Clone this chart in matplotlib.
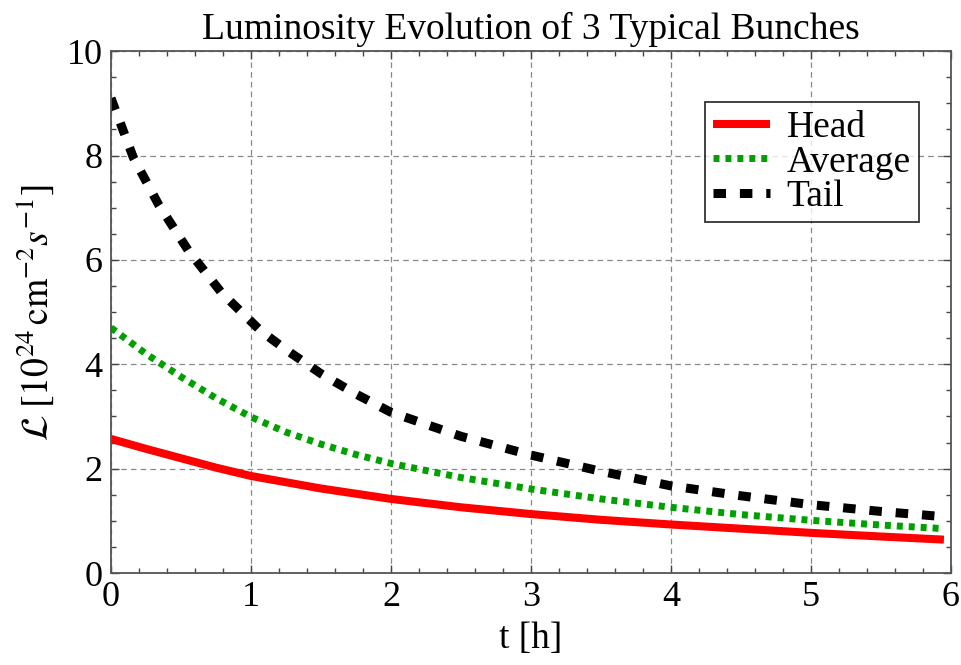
import matplotlib
matplotlib.use("Agg")
import matplotlib.pyplot as plt
from matplotlib.ticker import MultipleLocator

plt.rcParams["font.family"] = ["Liberation Serif", "DejaVu Serif"]
plt.rcParams["mathtext.fontset"] = "stix"
plt.rcParams["lines.scale_dashes"] = False

# Luminosity vs. time for three bunches [1e24 cm^-2 s^-1]
t_head = [0, 0.25, 0.5, 0.75, 1, 1.5, 2, 2.5, 3, 3.5, 4, 4.5, 5, 5.5, 5.95]
head = [2.57, 2.38, 2.20, 2.02, 1.86, 1.62, 1.42, 1.26, 1.13, 1.02, 0.93, 0.85, 0.77, 0.70, 0.64]

t_avg = [0, 0.25, 0.5, 0.75, 1, 1.25, 1.5, 1.75, 2, 2.5, 3, 3.5, 4, 4.5, 5, 5.5, 5.95]
average = [4.70, 4.20, 3.76, 3.35, 2.99, 2.70, 2.47, 2.27, 2.10, 1.83, 1.61, 1.42, 1.26, 1.12, 1.01, 0.92, 0.85]

t_tail = [0, 0.16, 0.34, 0.555, 0.79, 1.07, 1.25, 1.5, 1.75, 2, 2.5, 3, 3.5, 4, 4.5, 5, 5.5, 5.95]
tail = [9.10, 7.96, 7.06, 6.17, 5.37, 4.64, 4.28, 3.82, 3.43, 3.08, 2.62, 2.26, 1.95, 1.67, 1.48, 1.31, 1.18, 1.08]

labels = ["Head", "Average", "Tail"]
x_ticks = [0, 1, 2, 3, 4, 5, 6]
y_ticks = [0, 2, 4, 6, 8, 10]

fig = plt.figure(figsize=(9.61, 6.65), dpi=100)
ax = fig.add_axes([0.1155, 0.1383, 0.874, 0.7847])

ax.plot(t_head, head, color="#ff0000", lw=5.8, solid_capstyle="butt", label=labels[0])
ax.plot(t_avg, average, color="#00a000", lw=5.0, dashes=(4.3, 4.3), dash_capstyle="butt", label=labels[1])
ax.plot(t_tail, tail, color="black", lw=6.5, dashes=(9, 10), dash_capstyle="butt", label=labels[2])

ax.set_xlim(0, 6)
ax.set_ylim(0, 10)
ax.set_xticks(x_ticks)
ax.set_yticks(y_ticks)
ax.xaxis.set_minor_locator(MultipleLocator(0.2))
ax.yaxis.set_minor_locator(MultipleLocator(0.5))
ax.tick_params(which="both", direction="in", top=True, right=True, labelsize=26,
               color="#444444", width=1.0)
ax.tick_params(which="major", length=6, pad=6)
ax.tick_params(which="minor", length=3.5)
ax.grid(True, which="major", color="#888888", linestyle=(0, (4, 3)), linewidth=0.9)
for s in ax.spines.values():
    s.set_color("#555555")
    s.set_linewidth(1.3)

ax.set_title("Luminosity Evolution of 3 Typical Bunches", fontsize=27, pad=9)
ax.set_xlabel("t [h]", fontsize=27, labelpad=5)
ax.set_ylabel(r"$\mathcal{L}\;[10^{24}\,\mathrm{cm}^{-2}s^{-1}]$", fontsize=27, labelpad=8)

leg = ax.legend(loc="upper right", bbox_to_anchor=(0.962, 0.902), borderaxespad=0,
                fontsize=27, frameon=True, fancybox=False, handlelength=1.5,
                handletextpad=0.45, labelspacing=0.0, borderpad=0.22)
leg.get_frame().set_edgecolor("black")
leg.get_frame().set_linewidth(1.3)

fig.savefig("out.png", dpi=100)
